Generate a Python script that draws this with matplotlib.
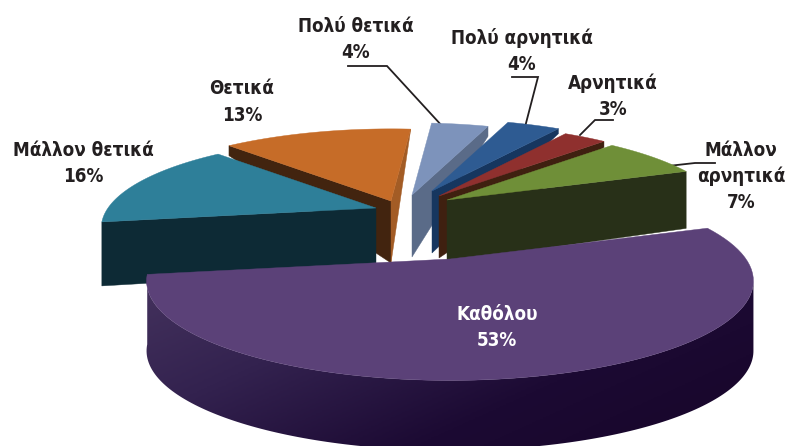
import numpy as np
import matplotlib
matplotlib.use("Agg")
import matplotlib.pyplot as plt
from matplotlib.colors import LinearSegmentedColormap
from matplotlib.patches import Polygon

plt.rcParams['font.family'] = ['DejaVu Sans']

# data, clockwise from the big slice (estimated, the labels show them rounded)
labels = ['Καθόλου', 'Μάλλον θετικά', 'Θετικά', 'Πολύ θετικά', 'Πολύ αρνητικά', 'Αρνητικά', 'Μάλλον\nαρνητικά']
values = [53.19, 15.52, 13.37, 4.03, 3.75, 3.06, 7.08]

# look of each slice
top_colors = ['#5b4178', '#2e7f99', '#c66c28', '#7d93bb', '#2e5b92', '#8f302e', '#6f8f38']
apex_xy = [(450, 259), (376, 208), (391, 201), (412, 195), (432, 191), (439, 196), (447, 200)]
radius = [296, 268, 275, 275, 275, 275, 275]
label_xy = [(497, 314), (83, 150), (242, 89), (356, 26), (522, 38), (613, 83), (741, 150)]
label_color = ['white'] + ['#231f20'] * 6

# fake perspective of the tilted disc
START_ANGLE = 20.5
TILT_K = 0.22
TILT_C = 0.32
WALL = 62

fig = plt.figure(figsize=(7.85, 4.46), dpi=100)
ax = fig.add_axes([0, 0, 1, 1])
ax.set_xlim(0, 785)
ax.set_ylim(446, 0)
ax.axis('off')


def project(i, theta):
    t = np.radians(theta)
    denom = 1 + TILT_K * np.sin(t)
    x = apex_xy[i][0] + radius[i] * np.cos(t) / denom
    y = apex_xy[i][1] - radius[i] * TILT_C * np.sin(t) / denom
    return x, y


def poly(pts, color, zorder):
    ax.add_patch(Polygon(pts, closed=True, facecolor=color, edgecolor=color, lw=0.3, zorder=zorder))


def wall(i, theta, drop, color, zorder):
    # flat cut face, from the centre out to the rim
    ax0, ay0 = apex_xy[i]
    rx, ry = project(i, theta)
    poly([(ax0, ay0), (rx, ry), (rx, ry + drop), (ax0, ay0 + WALL)], color, zorder)


def top(i, a0, a1, zorder):
    th = np.linspace(a0, a1, 80)
    xs, ys = project(i, th)
    pts = [apex_xy[i]] + list(zip(xs, ys))
    poly(pts, top_colors[i], zorder)


# slice limits from the values
spans = np.array(values) / sum(values) * 360
edges = START_ANGLE - np.concatenate([[0], np.cumsum(spans)])
edges[1:] = edges[1:] + 360  # everything but the big slice is at the back

# back group
wall(2, edges[2], 10, '#42240f', 2)
wall(2, edges[3], 1, '#a35c25', 2)
top(2, edges[2], edges[3], 3)

wall(1, edges[1], 64, '#0d2a35', 4)
top(1, edges[1], edges[2], 5)

wall(3, edges[4], 10, '#5a6b88', 6)
top(3, edges[3], edges[4], 7)
wall(4, edges[5], 5, '#16365f', 8)
top(4, edges[4], edges[5], 9)
wall(5, edges[6], 6, '#3f2010', 10)
top(5, edges[5], edges[6], 11)
wall(6, edges[7], 57, '#283018', 12)
top(6, edges[6], edges[7], 13)

# big slice, side first with a dark gradient
th = np.linspace(edges[1], 360 - 12.7, 160)
xs, ys = project(0, th)
side = np.column_stack([np.concatenate([xs, xs[::-1]]), np.concatenate([ys, ys[::-1] + 70])])
clip = Polygon(side, closed=True, transform=ax.transData, facecolor='none', edgecolor='none')
ax.add_patch(clip)
gx, gy = np.meshgrid(np.linspace(0, 1, 300), np.linspace(0, 1, 120))
cmap = LinearSegmentedColormap.from_list('side', ['#46345f', '#33224f', '#1c0a33', '#170529'])
img = ax.imshow(0.6 * gx + 0.4 * gy, cmap=cmap, extent=(145, 755, 446, 260), aspect='auto', zorder=14)
img.set_clip_path(clip)
ax.set_xlim(0, 785)
ax.set_ylim(446, 0)
top(0, edges[0], edges[1] - 360, 15)

# leader lines
leaders = [
    ([348, 387, 443], [66, 66, 127]),
    ([512, 538, 525], [77, 77, 127]),
    ([613, 595, 580], [120, 120, 135]),
    ([715, 695, 668], [163, 163, 166]),
]
for lx, ly in leaders:
    ax.plot(lx, ly, color='#231f20', lw=1.3, zorder=6, solid_joinstyle='miter')

# labels
for name, val, (tx, ty), col in zip(labels, values, label_xy, label_color):
    lines = (name + '\n' + str(round(val)) + '%').split('\n')
    for n, line in enumerate(lines):
        ax.text(tx, ty + n * 26.5, line, color=col, ha='center', va='center',
                fontsize=13.5, fontweight='bold', fontstretch='condensed', zorder=20)

fig.savefig('out.png', dpi=100)
